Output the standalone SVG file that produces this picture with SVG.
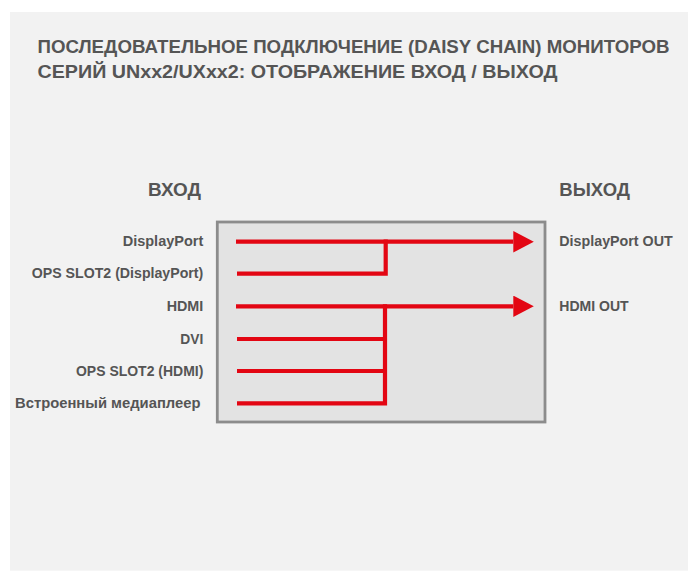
<svg xmlns="http://www.w3.org/2000/svg" width="688" height="571" viewBox="0 0 688 571">
<style>
text{font-family:"Liberation Sans",Arial,sans-serif;font-weight:bold;fill:#555555}
.title{font-size:19px}
.head{font-size:17.5px}
.lbl{font-size:15.3px}
.wire{stroke:#e30613;stroke-width:4.2;fill:none}
</style>
<defs>
<marker id="arr" markerUnits="userSpaceOnUse" markerWidth="21" markerHeight="22" refX="0" refY="10.7" orient="auto">
<path d="M0,0 L20.5,10.7 L0,21.4 z" fill="#e30613"/>
</marker>
</defs>
<rect x="0" y="0" width="688" height="571" fill="#ffffff"/>
<rect x="10" y="12" width="678" height="558.7" fill="#f2f2f2"/>
<g id="title">
<text class="title" x="37.5" y="52.5" textLength="632" lengthAdjust="spacingAndGlyphs">ПОСЛЕДОВАТЕЛЬНОЕ ПОДКЛЮЧЕНИЕ (DAISY CHAIN) МОНИТОРОВ</text>
<text class="title" x="37.5" y="78" textLength="520" lengthAdjust="spacingAndGlyphs">СЕРИЙ UNxx2/UXxx2: ОТОБРАЖЕНИЕ ВХОД / ВЫХОД</text>
</g>
<g id="box">
<rect x="217.3" y="222" width="327.7" height="200" fill="#e3e3e3" stroke="#8c8c8c" stroke-width="2.8"/>
</g>
<g id="inputs">
<text class="head" x="201" y="195.7" text-anchor="end" textLength="53" lengthAdjust="spacingAndGlyphs">ВХОД</text>
<text class="lbl" x="203.3" y="246" text-anchor="end" textLength="80.6" lengthAdjust="spacingAndGlyphs">DisplayPort</text>
<text class="lbl" x="203.3" y="278.3" text-anchor="end" textLength="171.6" lengthAdjust="spacingAndGlyphs">OPS SLOT2 (DisplayPort)</text>
<text class="lbl" x="203.3" y="311" text-anchor="end" textLength="36.6" lengthAdjust="spacingAndGlyphs">HDMI</text>
<text class="lbl" x="203.3" y="343.6" text-anchor="end" textLength="23" lengthAdjust="spacingAndGlyphs">DVI</text>
<text class="lbl" x="203.3" y="375.8" text-anchor="end" textLength="127.3" lengthAdjust="spacingAndGlyphs">OPS SLOT2 (HDMI)</text>
<text class="lbl" x="200.5" y="408" text-anchor="end" textLength="185.5" lengthAdjust="spacingAndGlyphs">Встроенный медиаплеер</text>
</g>
<g id="outputs">
<text class="head" x="559.3" y="195.7" textLength="70.7" lengthAdjust="spacingAndGlyphs">ВЫХОД</text>
<text class="lbl" x="559.3" y="246" textLength="113.4" lengthAdjust="spacingAndGlyphs">DisplayPort OUT</text>
<text class="lbl" x="559.3" y="311" textLength="69.4" lengthAdjust="spacingAndGlyphs">HDMI OUT</text>
</g>
<g id="connectors">
<path class="wire" d="M236,241.7 H513.3" marker-end="url(#arr)"/>
<path class="wire" d="M237,273.7 H385.7 V239.6"/>
<path class="wire" d="M236,306.3 H513.3" marker-end="url(#arr)"/>
<path class="wire" d="M237,339 H385"/>
<path class="wire" d="M237,371 H385"/>
<path class="wire" d="M237,403.3 H385 V304.2"/>
</g>
</svg>
